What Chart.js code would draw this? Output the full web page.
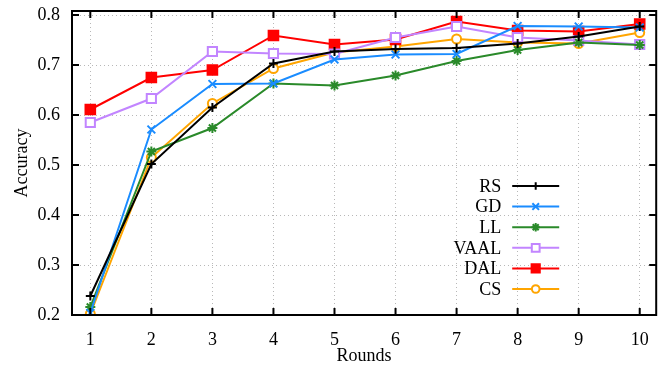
<!DOCTYPE html>
<html>
<head>
<meta charset="utf-8">
<script src="https://cdn.jsdelivr.net/npm/chart.js@4"></script>
<style>
  html, body { margin: 0; padding: 0; background: #fff; }
  #wrap { width: 665px; height: 367px; }
</style>
</head>
<body>
<div id="wrap"><canvas id="accChart" width="665" height="367"></canvas></div>
<script>
// Data
const rounds = [1, 2, 3, 4, 5, 6, 7, 8, 9, 10];
const yTicks = [0.2, 0.3, 0.4, 0.5, 0.6, 0.7, 0.8];

const rsVals   = [0.238, 0.502, 0.615, 0.703, 0.727, 0.732, 0.734, 0.743, 0.757, 0.777];
const gdVals   = [0.204, 0.571, 0.662, 0.663, 0.711, 0.721, 0.722, 0.778, 0.777, 0.775];
const llVals   = [0.216, 0.527, 0.574, 0.663, 0.659, 0.679, 0.708, 0.730, 0.745, 0.740];
const vaalVals = [0.585, 0.633, 0.727, 0.723, 0.722, 0.755, 0.777, 0.755, 0.749, 0.741];
const dalVals  = [0.611, 0.675, 0.690, 0.759, 0.741, 0.751, 0.787, 0.769, 0.767, 0.782];
const csVals   = [0.202, 0.515, 0.623, 0.693, 0.725, 0.737, 0.752, 0.745, 0.743, 0.765];

const serif = '"Liberation Serif", "DejaVu Serif", serif';

function series(label, vals, color, style, radius, fill) {
  return {
    label: label,
    data: rounds.map((r, i) => ({ x: r, y: vals[i] })),
    borderColor: color,
    backgroundColor: color,
    borderWidth: 2,
    pointStyle: style,
    pointRadius: radius,
    pointHoverRadius: radius,
    pointBorderWidth: 2,
    pointBorderColor: color,
    pointBackgroundColor: fill,
    tension: 0
  };
}

const datasets = [
  series('RS', rsVals, '#000000', 'cross', 4.5, '#000000'),
  series('GD', gdVals, '#1a8cff', 'crossRot', 5.5, '#1a8cff'),
  series('LL', llVals, '#2a8a2a', 'star', 5, '#2a8a2a'),
  series('VAAL', vaalVals, '#c285ff', 'rect', 6.5, '#ffffff'),
  series('DAL', dalVals, '#ff0000', 'rect', 6.8, '#ff0000'),
  series('CS', csVals, '#ffa500', 'circle', 4.5, '#ffffff')
];

// frame, inward tick marks and gnuplot-like legend
const framePlugin = {
  id: 'frame',
  afterDatasetsDraw(chart) {
    const ctx = chart.ctx;
    const a = chart.chartArea;
    const xs = chart.scales.x, ys = chart.scales.y;
    ctx.save();
    ctx.strokeStyle = '#000';
    ctx.lineWidth = 2;
    ctx.beginPath();
    rounds.forEach(r => {
      const px = xs.getPixelForValue(r);
      ctx.moveTo(px, a.bottom); ctx.lineTo(px, a.bottom - 7);
      ctx.moveTo(px, a.top); ctx.lineTo(px, a.top + 7);
    });
    yTicks.forEach(v => {
      const py = ys.getPixelForValue(v);
      ctx.moveTo(a.left, py); ctx.lineTo(a.left + 7, py);
      ctx.moveTo(a.right, py); ctx.lineTo(a.right - 7, py);
    });
    ctx.stroke();
    ctx.strokeRect(a.left, a.top, a.right - a.left, a.bottom - a.top);

    // legend
    const textRight = a.right - 155;
    const lineL = a.right - 144, lineR = a.right - 97;
    const rowH = 20.6;
    const n = chart.data.datasets.length;
    ctx.font = '18px ' + serif;
    ctx.textAlign = 'right';
    ctx.textBaseline = 'middle';
    chart.data.datasets.forEach((ds, i) => {
      const y = a.bottom - 26 - (n - 1 - i) * rowH;
      ctx.fillStyle = '#000';
      ctx.fillText(ds.label, textRight, y + 1);
      ctx.strokeStyle = ds.borderColor;
      ctx.lineWidth = 2;
      ctx.beginPath();
      ctx.moveTo(lineL, y); ctx.lineTo(lineR, y);
      ctx.stroke();
      ctx.fillStyle = ds.pointBackgroundColor;
      ctx.strokeStyle = ds.borderColor;
      Chart.helpers.drawPoint(ctx, {
        pointStyle: ds.pointStyle,
        radius: ds.pointRadius * 0.85,
        borderWidth: 2,
        rotation: 0
      }, (lineL + lineR) / 2, y);
    });
    ctx.restore();
  }
};

new Chart(document.getElementById('accChart').getContext('2d'), {
  type: 'line',
  data: { datasets: datasets },
  options: {
    responsive: false,
    animation: false,
    layout: { padding: { top: 11, right: 3, left: 0, bottom: 0 } },
    plugins: {
      legend: { display: false },
      tooltip: { enabled: false }
    },
    scales: {
      x: {
        type: 'linear',
        min: 0.7,
        max: 10.27,
        afterBuildTicks(scale) { scale.ticks = rounds.map(v => ({ value: v })); },
        afterFit(scale) {
          scale.height = 52;
          scale.paddingLeft = 0;
          scale.paddingRight = 0;
        },
        ticks: {
          color: '#000',
          font: { family: serif, size: 18 },
          padding: 14,
          maxRotation: 0,
          callback: v => String(v)
        },
        grid: { color: '#b8b8b8', lineWidth: 1, drawTicks: false },
        border: { display: false, dash: [1, 3] },
        title: {
          display: true,
          text: 'Rounds',
          color: '#000',
          font: { family: serif, size: 18 },
          padding: { top: 0, bottom: 0 }
        }
      },
      y: {
        min: 0.2,
        max: 0.808,
        afterBuildTicks(scale) { scale.ticks = yTicks.map(v => ({ value: v })); },
        afterFit(scale) {
          scale.width = 72;
          scale.paddingTop = 0;
          scale.paddingBottom = 0;
        },
        ticks: {
          color: '#000',
          font: { family: serif, size: 18 },
          padding: 12,
          callback: v => v.toFixed(1)
        },
        grid: { color: '#b8b8b8', lineWidth: 1, drawTicks: false },
        border: { display: false, dash: [1, 3] },
        title: {
          display: true,
          text: 'Accuracy',
          color: '#000',
          font: { family: serif, size: 18 },
          padding: { top: 11, bottom: 0 }
        }
      }
    }
  },
  plugins: [framePlugin]
});
</script>
</body>
</html>
